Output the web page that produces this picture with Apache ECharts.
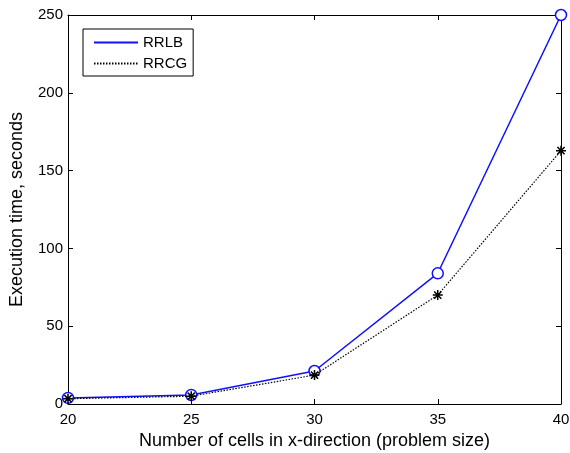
<!DOCTYPE html>
<html><head><meta charset="utf-8">
<script src="https://cdn.jsdelivr.net/npm/echarts@6/dist/echarts.min.js"></script>
<style>html,body{margin:0;padding:0;background:#fff}#c{width:570px;height:453px}</style>
</head><body><div id="c"></div>
<script>
const categories = [20, 25, 30, 35, 40];
const rrlb = [3.9, 5.8, 21.2, 84, 250];
const rrcg = [3.4, 5.0, 18.6, 70, 162.8];
const xTicks = [20, 25, 30, 35, 40];
const yTicks = [0, 50, 100, 150, 200, 250];

const chart = echarts.init(document.getElementById('c'), null, {renderer: 'canvas'});
const font = 'Liberation Sans, Arial, sans-serif';
const star = 'path://M0,-5 L0,5 M-5,0 L5,0 M-3.6,-3.6 L3.6,3.6 M-3.6,3.6 L3.6,-3.6';
const axisCommon = {
  axisLine: {show: true, onZero: false, lineStyle: {color: '#000', width: 1}},
  axisTick: {show: true, inside: true, length: 5, lineStyle: {color: '#000'}},
  splitLine: {show: false}
};
chart.setOption({
  animation: false,
  grid: {left: 68, right: 9, top: 15, bottom: 49, containLabel: false, outerBoundsMode: 'none'},
  legend: {
    show: true,
    left: 83, top: 29, orient: 'vertical', itemGap: 6,
    itemWidth: 44, itemHeight: 12,
    padding: [6, 6, 5, 10],
    borderColor: '#000', borderWidth: 1, borderRadius: 0,
    textStyle: {fontFamily: font, fontSize: 15, color: '#000'},
    itemStyle: {opacity: 0},
    data: ['RRLB', 'RRCG']
  },
  xAxis: [
    Object.assign({type: 'value', min: 20, max: 40, interval: 5,
      name: 'Number of cells in x-direction (problem size)', nameLocation: 'middle', nameGap: 25,
      nameTextStyle: {fontFamily: font, fontSize: 18, color: '#000'},
      axisLabel: {fontFamily: font, fontSize: 15, color: '#000', margin: 8}}, axisCommon),
    Object.assign({type: 'value', min: 20, max: 40, interval: 5, position: 'top',
      axisLabel: {show: false}}, axisCommon)
  ],
  yAxis: [
    Object.assign({type: 'value', min: 0, max: 250, interval: 50,
      name: 'Execution time, seconds', nameLocation: 'middle', nameGap: 42,
      nameTextStyle: {fontFamily: font, fontSize: 18, color: '#000'},
      axisLabel: {fontFamily: font, fontSize: 15, color: '#000', margin: 5}}, axisCommon),
    Object.assign({type: 'value', min: 0, max: 250, interval: 50, position: 'right',
      axisLabel: {show: false}}, axisCommon)
  ],
  series: [
    {name: 'RRLB', type: 'line', data: categories.map((x, i) => [x, rrlb[i]]),
      symbol: 'circle', symbolSize: 11, showAllSymbol: true,
      lineStyle: {color: '#1010ff', width: 1.5},
      itemStyle: {color: '#fff', borderColor: '#1010ff', borderWidth: 1.5},
      z: 3},
    {name: 'RRCG', type: 'line', data: categories.map((x, i) => [x, rrcg[i]]),
      symbol: star, symbolSize: 10, showAllSymbol: true,
      lineStyle: {color: '#000', width: 1.2, type: [1.5, 1.5]},
      itemStyle: {color: 'none', borderColor: '#000', borderWidth: 1.5},
      z: 4}
  ]
});
</script></body></html>
